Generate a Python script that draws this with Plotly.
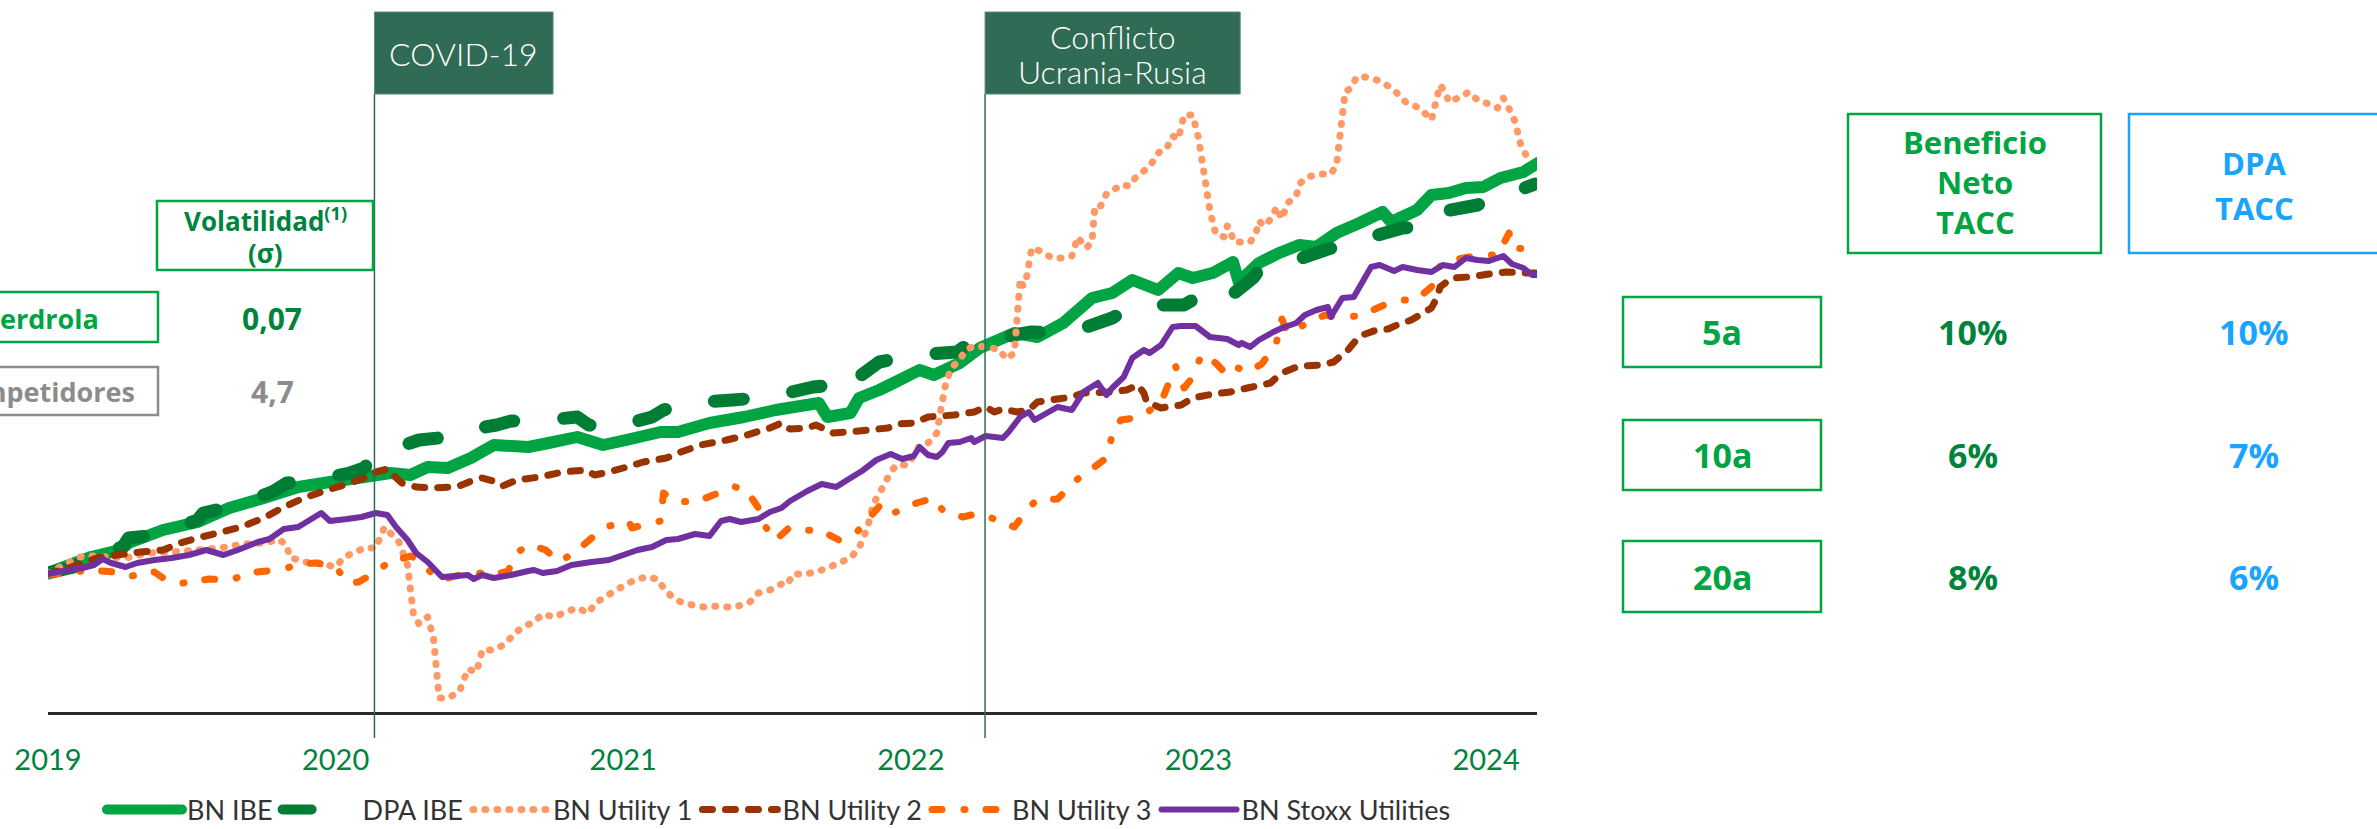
import plotly.graph_objects as go

W, H = 2377, 829

# ---------------- data (arbitrary index units) ----------------
years = [2019, 2020, 2021, 2022, 2023, 2024]
year_labels = ["2019", "2020", "2021", "2022", "2023", "2024"]

bn_ibe_x = [2019.00, 2019.15, 2019.25, 2019.28, 2019.40, 2019.52, 2019.63, 2019.75, 2019.87, 2019.98,
            2020.10, 2020.19, 2020.26, 2020.32, 2020.39, 2020.47, 2020.55, 2020.67, 2020.74, 2020.84, 2020.93,
            2021.01, 2021.13, 2021.19, 2021.30, 2021.42, 2021.53, 2021.68, 2021.71, 2021.79, 2021.82, 2021.89, 2021.94,
            2022.03, 2022.08, 2022.17, 2022.24, 2022.36, 2022.44, 2022.53, 2022.63, 2022.70, 2022.77, 2022.86, 2022.93, 2022.98,
            2023.05, 2023.12, 2023.14, 2023.21, 2023.28, 2023.35, 2023.41, 2023.48, 2023.56, 2023.64, 2023.67, 2023.76, 2023.81, 2023.87, 2023.93, 2023.99,
            2024.05, 2024.13, 2024.18]
bn_ibe_y = [139, 155, 162, 169, 182, 190, 204, 214, 225, 230,
            235, 239, 237, 245, 244, 254, 267, 265, 269, 275, 267,
            272, 280, 280, 289, 295, 302, 309, 295, 299, 314, 322, 329,
            342, 337, 349, 364, 379, 375, 389, 414, 419, 432, 422, 439, 434,
            439, 450, 430, 449, 459, 467, 465, 479, 489, 500, 490, 502, 517, 519, 524, 525,
            534, 540, 549]

dpa_ibe_x = [2019.00, 2019.09, 2019.11, 2019.26, 2019.28, 2019.38, 2019.52, 2019.54, 2019.63, 2019.78, 2019.83, 2019.90,
             2020.05, 2020.10, 2020.12, 2020.16, 2020.29, 2020.39, 2020.42, 2020.56, 2020.61, 2020.70, 2020.84, 2020.88, 2020.96,
             2021.10, 2021.14, 2021.22, 2021.38, 2021.51, 2021.66, 2021.73, 2021.76, 2021.78, 2021.89,
             2022.02, 2022.16, 2022.22, 2022.28, 2022.42, 2022.55, 2022.70, 2022.75, 2022.82, 2022.95, 2022.98,
             2023.03, 2023.08, 2023.19, 2023.21, 2023.29, 2023.44, 2023.56, 2023.71, 2023.76, 2023.79, 2023.82, 2023.97,
             2024.02, 2024.09, 2024.17]
dpa_ibe_y = [139, 145, 155, 165, 174, 177, 192, 199, 205, 220, 229, 230,
             239, 244, 252, 259, 272, 275, 280, 287, 291, 291, 295, 287, 284,
             295, 302, 309, 312, 315, 325, 327, 334, 327, 350,
             357, 360, 372, 373, 380, 379, 394, 402, 407, 407, 412,
             405, 409, 434, 442, 447, 462, 472, 484, 485, 497, 499, 507,
             515, 519, 528]

util1_x = [2019.00, 2019.11, 2019.15, 2019.27, 2019.35, 2019.43, 2019.52, 2019.60, 2019.68, 2019.76, 2019.80, 2019.83, 2019.84, 2019.89, 2019.94,
           2020.00, 2020.03, 2020.10, 2020.14, 2020.17, 2020.22, 2020.25, 2020.27, 2020.29, 2020.32, 2020.34, 2020.36, 2020.39, 2020.43, 2020.46,
           2020.49, 2020.51, 2020.55, 2020.59, 2020.62, 2020.65, 2020.69, 2020.72, 2020.76, 2020.80, 2020.84, 2020.88, 2020.90, 2020.93, 2020.97,
           2021.00, 2021.04, 2021.08, 2021.12, 2021.14, 2021.17, 2021.20, 2021.24, 2021.28, 2021.33, 2021.36, 2021.40, 2021.44, 2021.47, 2021.51,
           2021.55, 2021.57, 2021.59, 2021.63, 2021.67, 2021.71, 2021.75, 2021.79, 2021.82, 2021.85, 2021.87, 2021.89, 2021.93, 2021.95, 2021.99,
           2022.03, 2022.06, 2022.09, 2022.12, 2022.14, 2022.17, 2022.19, 2022.22, 2022.27, 2022.31, 2022.33, 2022.36, 2022.38, 2022.39, 2022.40,
           2022.42, 2022.46, 2022.49, 2022.53, 2022.56, 2022.58, 2022.61, 2022.63, 2022.64, 2022.66, 2022.68, 2022.70, 2022.73, 2022.76, 2022.78,
           2022.81, 2022.83, 2022.85, 2022.87, 2022.89, 2022.91, 2022.93, 2022.95, 2022.98,
           2023.00, 2023.04, 2023.06, 2023.09, 2023.10, 2023.11, 2023.12, 2023.14, 2023.18, 2023.20, 2023.21, 2023.23, 2023.26, 2023.27, 2023.29,
           2023.31, 2023.34, 2023.35, 2023.38, 2023.42, 2023.46, 2023.48, 2023.51, 2023.53, 2023.55, 2023.58, 2023.62, 2023.66, 2023.69, 2023.72,
           2023.76, 2023.79, 2023.81, 2023.84, 2023.86, 2023.87, 2023.91, 2023.94, 2023.97,
           2024.01, 2024.04, 2024.06, 2024.08, 2024.10, 2024.12, 2024.14, 2024.17]
util1_y = [139, 155, 156, 154, 159, 160, 162, 164, 168, 169, 173, 167, 155, 150, 149,
           145, 155, 164, 164, 185, 170, 147, 99, 88, 95, 75, 14, 14, 20, 43,
           40, 62, 62, 68, 78, 85, 90, 98, 95, 100, 104, 99, 108, 114, 121,
           126, 132, 135, 133, 124, 115, 110, 107, 105, 106, 105, 106, 110, 119, 122,
           128, 127, 138, 138, 140, 144, 149, 154, 164, 185, 209, 218, 240, 247, 247,
           266, 269, 279, 327, 344, 352, 362, 366, 365, 362, 353, 359, 433, 426, 431,
           464, 460, 454, 454, 456, 475, 464, 470, 506, 506, 518, 521, 527, 526, 534,
           541, 545, 555, 562, 564, 576, 573, 597, 597,
           574, 501, 478, 475, 486, 484, 471, 470, 470, 479, 491, 486, 496, 505, 493,
           509, 516, 528, 535, 538, 538, 547, 620, 624, 635, 635, 632, 626, 619, 610,
           605, 598, 592, 627, 619, 610, 615, 620, 612,
           608, 604, 614, 603, 591, 568, 556, 553]

util2_x = [2019.00, 2019.08, 2019.17, 2019.24, 2019.32, 2019.40, 2019.46, 2019.52, 2019.59, 2019.67, 2019.75, 2019.82, 2019.89, 2019.96,
           2020.03, 2020.10, 2020.14, 2020.18, 2020.20, 2020.23, 2020.28, 2020.33, 2020.40, 2020.43, 2020.48, 2020.51, 2020.56, 2020.58, 2020.63,
           2020.71, 2020.79, 2020.87, 2020.90, 2020.95,
           2021.00, 2021.07, 2021.15, 2021.20, 2021.27, 2021.36, 2021.43, 2021.51, 2021.55, 2021.58, 2021.64, 2021.67, 2021.73, 2021.78, 2021.85,
           2021.92, 2021.96,
           2022.01, 2022.06, 2022.15, 2022.22, 2022.26, 2022.29, 2022.32, 2022.37, 2022.41, 2022.44, 2022.51, 2022.56, 2022.60, 2022.69, 2022.75,
           2022.79, 2022.81, 2022.82, 2022.87, 2022.89, 2022.94, 2022.98,
           2023.05, 2023.11, 2023.17, 2023.25, 2023.29, 2023.35, 2023.43, 2023.47, 2023.52, 2023.56, 2023.62, 2023.66, 2023.69, 2023.74, 2023.78,
           2023.81, 2023.83, 2023.84, 2023.88, 2023.94,
           2024.01, 2024.07, 2024.14, 2024.18]
util2_y = [138, 145, 154, 157, 160, 162, 169, 174, 179, 185, 194, 205, 214, 221,
           227, 234, 240, 243, 237, 229, 225, 224, 225, 226, 232, 234, 230, 226, 232,
           235, 240, 242, 237, 240,
           244, 250, 254, 260, 267, 272, 277, 284, 289, 283, 284, 287, 279, 280, 282,
           284, 288,
           289, 295, 297, 300, 305, 300, 303, 300, 302, 310, 313, 315, 319, 320, 322,
           327, 319, 310, 304, 305, 307, 314,
           318, 320, 324, 329, 339, 346, 347, 350, 362, 376, 382, 383, 387, 392, 399,
           404, 415, 425, 434, 435,
           438, 440, 439, 439]

util3_x = [2019.00, 2019.05, 2019.15, 2019.23, 2019.27, 2019.37, 2019.42, 2019.47, 2019.56, 2019.64, 2019.69, 2019.76, 2019.83, 2019.88, 2019.93, 2019.97,
           2020.00, 2020.03, 2020.05, 2020.08, 2020.14, 2020.20, 2020.24, 2020.26, 2020.29, 2020.35, 2020.39, 2020.43, 2020.47, 2020.55, 2020.60,
           2020.63, 2020.68, 2020.73, 2020.78, 2020.85, 2020.89, 2020.95,
           2021.02, 2021.03, 2021.07, 2021.13, 2021.14, 2021.18, 2021.26, 2021.34, 2021.38, 2021.43, 2021.47, 2021.49, 2021.53, 2021.58, 2021.63,
           2021.69, 2021.75, 2021.81, 2021.90, 2021.94,
           2022.02, 2022.08, 2022.11, 2022.18, 2022.24, 2022.28, 2022.36, 2022.41, 2022.44, 2022.51, 2022.58, 2022.61, 2022.68, 2022.70, 2022.73,
           2022.80, 2022.87, 2022.89, 2022.92, 2022.95, 2022.98,
           2023.01, 2023.06, 2023.10, 2023.13, 2023.17, 2023.22, 2023.27, 2023.29, 2023.31, 2023.38, 2023.44, 2023.48, 2023.56, 2023.63, 2023.68,
           2023.76, 2023.81, 2023.83, 2023.88, 2023.94, 2023.98,
           2024.04, 2024.08, 2024.09, 2024.15]
util3_y = [137, 139, 142, 140, 135, 140, 130, 129, 133, 132, 139, 141, 144, 148, 149, 147,
           145, 134, 129, 130, 140, 153, 154, 156, 152, 134, 134, 137, 140, 137, 141,
           160, 167, 162, 150, 164, 174, 186,
           190, 184, 187, 191, 219, 210, 211, 220, 226, 221, 204, 187, 172, 185, 182,
           181, 172, 179, 209, 199,
           209, 214, 202, 195, 199, 194, 185, 205, 212, 213, 233, 239, 254, 277, 292,
           295, 310, 324, 346, 324, 335,
           357, 349, 337, 345, 340, 348, 368, 393, 379, 389, 397, 395, 396, 405, 411,
           413, 425, 444, 452, 455, 457,
           457, 479, 464, 463]

stoxx_x = [2019.00, 2019.05, 2019.12, 2019.16, 2019.19, 2019.22, 2019.27, 2019.31, 2019.37, 2019.43, 2019.49, 2019.55, 2019.61, 2019.66, 2019.73,
           2019.77, 2019.82, 2019.87, 2019.91, 2019.95, 2019.98,
           2020.04, 2020.09, 2020.14, 2020.18, 2020.21, 2020.25, 2020.28, 2020.32, 2020.37, 2020.42, 2020.46, 2020.48, 2020.51, 2020.55, 2020.61,
           2020.67, 2020.69, 2020.72, 2020.77, 2020.82, 2020.89, 2020.95,
           2021.00, 2021.05, 2021.10, 2021.15, 2021.19, 2021.25, 2021.30, 2021.34, 2021.37, 2021.41, 2021.47, 2021.51, 2021.55, 2021.58, 2021.64,
           2021.69, 2021.74, 2021.79, 2021.83, 2021.88, 2021.93, 2021.97,
           2022.01, 2022.03, 2022.06, 2022.09, 2022.11, 2022.13, 2022.17, 2022.21, 2022.22, 2022.26, 2022.32, 2022.34, 2022.38, 2022.41, 2022.43,
           2022.51, 2022.56, 2022.60, 2022.65, 2022.68, 2022.70, 2022.74, 2022.77, 2022.81, 2022.83, 2022.87, 2022.91, 2022.94, 2022.99,
           2023.04, 2023.10, 2023.14, 2023.15, 2023.18, 2023.21, 2023.26, 2023.29, 2023.34, 2023.37, 2023.41, 2023.45, 2023.46, 2023.50, 2023.54,
           2023.57, 2023.60, 2023.63, 2023.68, 2023.71, 2023.76, 2023.81, 2023.85, 2023.89, 2023.93, 2023.97,
           2024.01, 2024.06, 2024.09, 2024.13, 2024.16, 2024.18]
stoxx_y = [138, 141, 144, 147, 153, 149, 145, 149, 152, 154, 157, 162, 157, 162, 170,
           173, 183, 185, 192, 199, 191,
           193, 195, 199, 197, 185, 172, 159, 150, 135, 136, 137, 133, 137, 134, 137,
           141, 142, 139, 141, 147, 150, 152,
           157, 162, 165, 172, 173, 178, 176, 191, 193, 190, 193, 200, 204, 211, 221,
           228, 225, 234, 241, 252, 258, 253,
           256, 265, 257, 255, 260, 269, 270, 274, 270, 276, 274, 280, 295, 300, 292,
           305, 302, 320, 329, 317, 324, 335, 354, 362, 359, 367, 385, 386, 386,
           375, 373, 367, 369, 365, 372, 380, 384, 389, 397, 402, 405, 395, 414, 415,
           430, 445, 447, 441, 445, 442, 440, 447, 445, 454, 452,
           451, 456, 448, 444, 437, 437]

event_lines = [["COVID-19"], ["Conflicto", "Ucrania-Rusia"]]
event_dates = [2020.135, 2022.258]
event_box_end = [2020.756, 2023.145]

vol_header = ["Volatilidad<sup>(1)</sup>", "(σ)"]
vol_names = ["Iberdrola", "Competidores"]
vol_values = ["0,07", "4,7"]

cagr_headers = [["Beneficio", "Neto", "TACC"], ["DPA", "TACC"]]
cagr_periods = ["5a", "10a", "20a"]
cagr_bn = ["10%", "6%", "8%"]
cagr_dpa = ["10%", "7%", "6%"]

# ---------------- styles ----------------
C_BN = "#00A443"
C_DPA = "#007D35"
C_U1 = "#FF9966"
C_U2 = "#993300"
C_U3 = "#FF6600"
C_STOXX = "#7030A0"
C_DARKG = "#00843D"
C_BLUE = "#1AA3FF"
C_GRAY = "#8C8C8C"
C_BOX = "#306B55"
FONT = "Lato"
BFONT = "Open Sans"


def px(x):
    return x / W


def py(y):
    return 1 - y / H


def txt(text, x, y, size, color, xanchor="center", family=BFONT, weight=None):
    f = dict(family=family, size=size, color=color)
    if weight:
        f["weight"] = weight
    return dict(text=text, xref="paper", yref="paper", x=px(x), y=py(y), showarrow=False,
                xanchor=xanchor, yanchor="middle", align="center", font=f)


fig = go.Figure()
series = [
    ("BN IBE", bn_ibe_x, bn_ibe_y, dict(color=C_BN, width=12)),
    ("DPA IBE", dpa_ibe_x, dpa_ibe_y, dict(color=C_DPA, width=13, dash="29px,50px")),
    ("BN Utility 1", util1_x, util1_y, dict(color=C_U1, width=7, dash="1px,11px")),
    ("BN Utility 2", util2_x, util2_y, dict(color=C_U2, width=7, dash="10px,13px")),
    ("BN Utility 3", util3_x, util3_y, dict(color=C_U3, width=7, dash="10px,22px,1px,21px")),
    ("BN Stoxx Utilities", stoxx_x, stoxx_y, dict(color=C_STOXX, width=6)),
]
for name, xs, ys, ln in series:
    fig.add_trace(go.Scatter(x=xs, y=ys, mode="lines", name=name, line=dict(simplify=False, **ln),
                             hoverinfo="skip"))

shapes = []
annotations = []

# event lines and boxes
for lines, d, d1 in zip(event_lines, event_dates, event_box_end):
    shapes.append(dict(type="line", xref="x", yref="paper", x0=d, x1=d, y0=py(738), y1=py(94),
                       line=dict(color=C_BOX, width=1.5)))
    shapes.append(dict(type="rect", xref="x", yref="paper", x0=d, x1=d1, y0=py(94), y1=py(12),
                       fillcolor=C_BOX, line=dict(color="#5E8C7A", width=1)))
    ys = [53] if len(lines) == 1 else [37, 72]
    for lab, yy in zip(lines, ys):
        annotations.append(dict(text=lab, xref="x", yref="paper", x=(d + d1) / 2, y=py(yy),
                                showarrow=False, xanchor="center", yanchor="middle", align="center",
                                font=dict(family=FONT, size=32, color="white", weight=300)))

# volatility table (left)
shapes.append(dict(type="rect", xref="paper", yref="paper", x0=px(157), x1=px(373), y0=py(270), y1=py(201),
                   line=dict(color=C_BN, width=2.5)))
for lab, yy in zip(vol_header, [220, 253]):
    annotations.append(txt("<b>" + lab + "</b>", 265, yy, 26, C_DARKG))
vol_rows = [(292, 342, 318, C_BN, C_DARKG, 101), (367, 415, 392, C_GRAY, C_GRAY, 137)]
for (y0, y1, yc, bc, vc, xr), nm, val in zip(vol_rows, vol_names, vol_values):
    shapes.append(dict(type="rect", xref="paper", yref="paper", x0=px(-120), x1=px(158), y0=py(y1), y1=py(y0),
                       line=dict(color=bc, width=2.5)))
    annotations.append(txt("<b>" + nm + "</b>", xr, yc, 27, bc, xanchor="right"))
    annotations.append(txt("<b>" + val + "</b>", 272, yc, 30, vc))

# CAGR table (right)
shapes.append(dict(type="rect", xref="paper", yref="paper", x0=px(1848), x1=px(2101), y0=py(253), y1=py(114),
                   line=dict(color=C_BN, width=2.5)))
shapes.append(dict(type="rect", xref="paper", yref="paper", x0=px(2129), x1=px(2390), y0=py(253), y1=py(114),
                   line=dict(color=C_BLUE, width=2.5)))
for lab, yy in zip(cagr_headers[0], [142, 182, 222]):
    annotations.append(txt("<b>" + lab + "</b>", 1975, yy, 31, C_BN))
for lab, yy in zip(cagr_headers[1], [163, 208]):
    annotations.append(txt("<b>" + lab + "</b>", 2254, yy, 31, C_BLUE))
row_y = [(297, 367), (420, 490), (541, 612)]
for (y0, y1), per, b, dv in zip(row_y, cagr_periods, cagr_bn, cagr_dpa):
    yc = (y0 + y1) / 2
    shapes.append(dict(type="rect", xref="paper", yref="paper", x0=px(1623), x1=px(1821), y0=py(y1), y1=py(y0),
                       line=dict(color=C_BN, width=2.5)))
    annotations.append(txt("<b>" + per + "</b>", 1722, yc, 34, C_BN))
    annotations.append(txt("<b>" + b + "</b>", 1973, yc, 34, C_DARKG))
    annotations.append(txt("<b>" + dv + "</b>", 2254, yc, 34, C_BLUE))

fig.update_layout(
    width=W, height=H,
    margin=dict(l=0, r=0, t=0, b=0, pad=0, autoexpand=False),
    paper_bgcolor="white", plot_bgcolor="white",
    showlegend=True,
    legend=dict(orientation="h", x=px(102), xanchor="left", y=py(810), yanchor="middle",
                font=dict(family=FONT, size=27, color="#333333"),
                itemwidth=75, bgcolor="rgba(0,0,0,0)", traceorder="normal"),
    xaxis=dict(range=[2019, 2024.177], domain=[px(48), px(1537)],
               tickmode="array", tickvals=years, ticktext=year_labels,
               showline=True, linecolor="#2B2B2B", linewidth=3,
               ticks="outside", ticklen=20, tickcolor="rgba(0,0,0,0)",
               tickfont=dict(family=FONT, size=29, color=C_DARKG),
               showgrid=False, zeroline=False, automargin=False),
    yaxis=dict(range=[0, 712], domain=[py(712), 1], visible=False, showgrid=False, zeroline=False,
               automargin=False),
    shapes=shapes,
    annotations=annotations,
    hovermode=False,
)

post = """
document.body.style.margin='0';
function capRound(){
  document.querySelectorAll('path.js-line').forEach(function(p){
    p.style.strokeLinecap='round'; p.style.strokeLinejoin='round';
  });
}
capRound(); setTimeout(capRound,50); setTimeout(capRound,300); setTimeout(capRound,1000);
"""
fig.write_html("out.html", post_script=post, config={"displayModeBar": False})
